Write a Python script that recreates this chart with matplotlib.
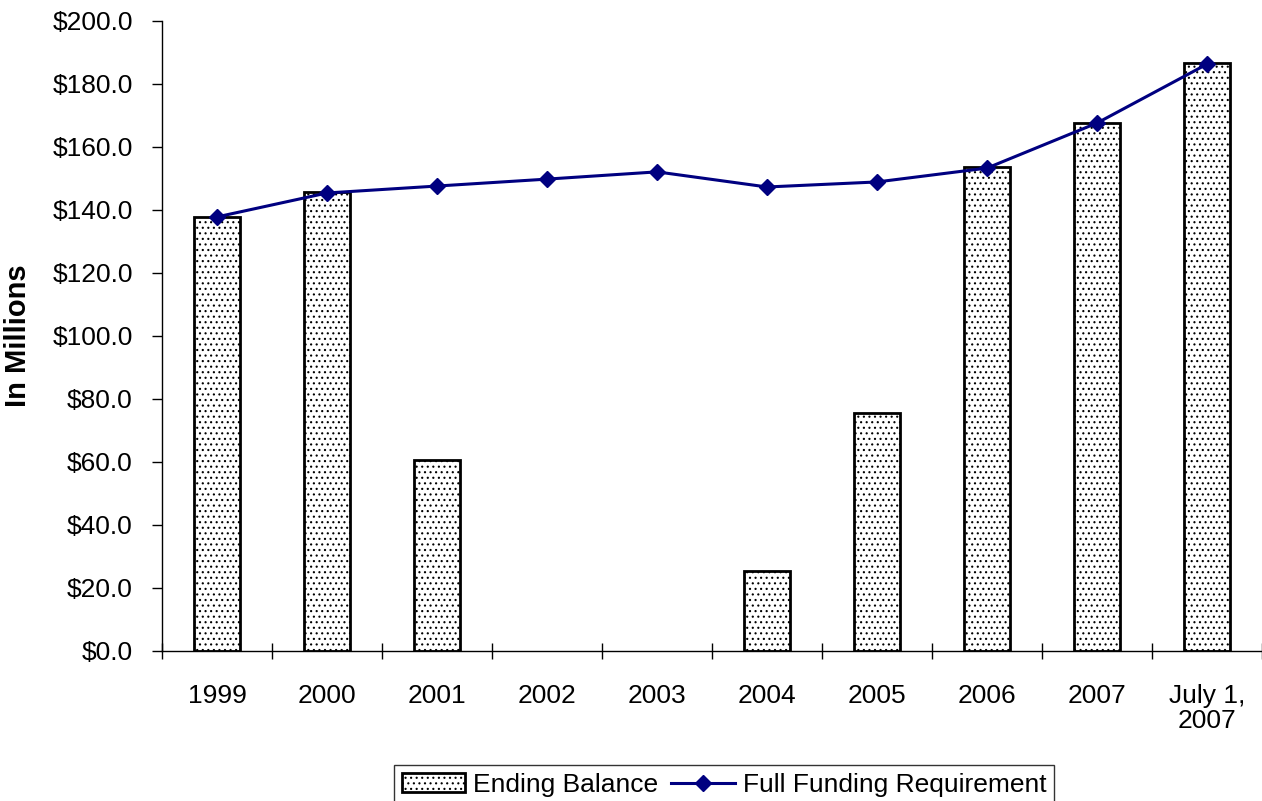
import numpy as np
import matplotlib.pyplot as plt
import matplotlib.ticker as mticker

# Fund balance vs. full funding requirement, in millions
categories = ['1999', '2000', '2001', '2002', '2003', '2004', '2005', '2006', '2007', 'July 1,\n2007']
ending_balance = [137.8, 145.7, 60.6, 0.0, 0.0, 25.4, 75.6, 153.7, 167.6, 186.7]
full_funding = [137.8, 145.4, 147.6, 149.8, 152.1, 147.3, 148.9, 153.3, 167.6, 186.3]

plt.rcParams['font.family'] = ['Liberation Sans', 'DejaVu Sans']
plt.rcParams['hatch.color'] = '#505050'
plt.rcParams['hatch.linewidth'] = 0.8

fig = plt.figure(figsize=(12.62, 8.01), dpi=100)
ax = fig.add_axes([0.1284, 0.1873, 0.8716, 0.7865])

x = np.arange(len(categories))
# empty years get no outline at all
edge_w = [2 if v > 0 else 0 for v in ending_balance]
bars = ax.bar(x, ending_balance, width=0.41, color='white', edgecolor='black',
              linewidth=edge_w, hatch='...', label='Ending Balance', zorder=2)
line, = ax.plot(x, full_funding, color='#000080', linewidth=2.2, marker='D', markersize=8,
                label='Full Funding Requirement', zorder=3)

ax.set_xlim(-0.5, len(categories) - 0.5)
ax.set_ylim(0, 200)
ax.yaxis.set_major_locator(mticker.MultipleLocator(20))
ax.yaxis.set_major_formatter(mticker.FuncFormatter(lambda v, p: '${:.1f}'.format(v)))

# category boundaries get the tick marks, labels sit in between
ax.set_xticks(np.arange(len(categories) + 1) - 0.5)
ax.set_xticklabels([])
ax.set_xticks(x, minor=True)
ax.set_xticklabels(categories, minor=True, fontsize=19, linespacing=1.05)
ax.tick_params(axis='x', which='minor', length=0, pad=24)
ax.tick_params(axis='x', which='major', direction='inout', length=11.5, width=1)
ax.tick_params(axis='y', direction='out', length=7, width=1, labelsize=19, pad=14)

for side in ['top', 'right']:
    ax.spines[side].set_visible(False)
ax.spines['left'].set_linewidth(1)
ax.spines['bottom'].set_linewidth(1)

ax.set_ylabel('In Millions', fontsize=21, fontweight='bold')
ax.yaxis.set_label_coords(-0.118, 0.5)

leg = ax.legend([bars, line], ['Ending Balance', 'Full Funding Requirement'],
                loc='upper center', bbox_to_anchor=(0.511, -0.181), ncol=2,
                fontsize=19, frameon=True, fancybox=False, edgecolor='black',
                handlelength=2.4, handletextpad=0.3, columnspacing=0.5,
                borderpad=0.3, borderaxespad=0)
leg.get_frame().set_linewidth(1)

fig.savefig('out.png', dpi=100)
